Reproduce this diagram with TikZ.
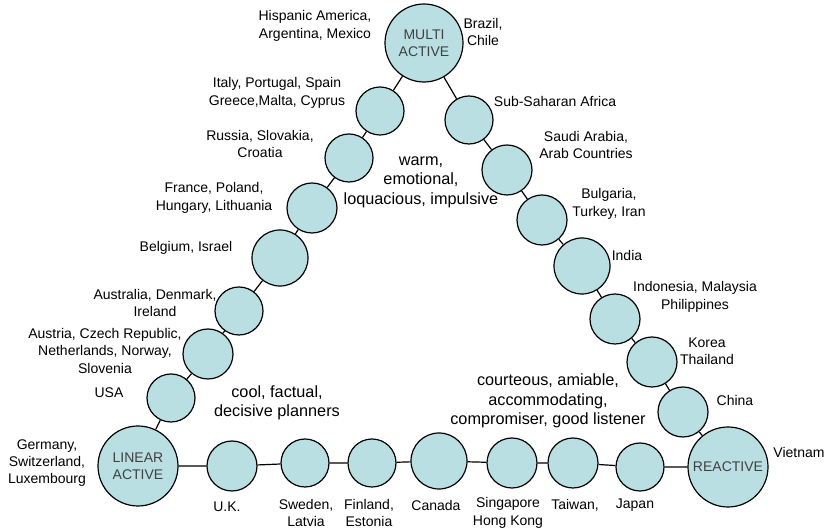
\documentclass[tikz,border=0pt]{standalone}
\usepackage{fontspec}
\setmainfont{Liberation Sans}
\definecolor{cfill}{RGB}{185,223,227}
\begin{document}
\begin{tikzpicture}[x=0.75pt,y=-0.75pt,
  cir/.style={circle,draw=black,fill=cfill,line width=0.9pt,minimum size=#1*1.5pt,inner sep=0pt,
    font=\fontsize{10.5}{13}\selectfont,text=black!75,align=center},
  lbl/.style={align=center,font=\fontsize{10.5}{13}\selectfont,inner sep=0pt},
  big/.style={align=center,font=\fontsize{12.2}{14.6}\selectfont,inner sep=0pt},
  link/.style={line width=0.9pt}]
\path[use as bounding box] (0,0) rectangle (826,530);

% main circles
\node[cir=39] (m)  at (424,43)  {MULTI\\ACTIVE};
\node[cir=40] (la) at (138,466) {LINEAR\\ACTIVE};
\node[cir=40] (re) at (728,467) {REACTIVE};

% left chain
\node[cir=24] (l1) at (380,111) {};
\node[cir=24] (l2) at (349,158) {};
\node[cir=25] (l3) at (312,208) {};
\node[cir=28] (l4) at (280,258) {};
\node[cir=24] (l5) at (239,311) {};
\node[cir=25] (l6) at (208,354) {};
\node[cir=24] (l7) at (171,398) {};

% bottom chain
\node[cir=25] (b1) at (232,466) {};
\node[cir=24] (b2) at (305,463) {};
\node[cir=24] (b3) at (372,463) {};
\node[cir=28] (b4) at (439,461) {};
\node[cir=25] (b5) at (512,463) {};
\node[cir=25] (b6) at (573,463) {};
\node[cir=24] (b7) at (640,467) {};

% right chain
\node[cir=24] (r1) at (469,120) {};
\node[cir=25] (r2) at (507,170) {};
\node[cir=25] (r3) at (542,220) {};
\node[cir=28] (r4) at (582,266) {};
\node[cir=25] (r5) at (615,319) {};
\node[cir=25] (r6) at (652,362) {};
\node[cir=25] (r7) at (683,412) {};

% connectors
\draw[link] (m)--(l1) (l1)--(l2) (l2)--(l3) (l3)--(l4) (l4)--(l5) (l5)--(l6) (l6)--(l7) (l7)--(la);
\draw[link] (la)--(b1) (b1)--(b2) (b2)--(b3) (b3)--(b4) (b4)--(b5) (b5)--(b6) (b6)--(b7) (b7)--(re);
\draw[link] (m)--(r1) (r1)--(r2) (r2)--(r3) (r3)--(r4) (r4)--(r5) (r5)--(r6) (r6)--(r7) (r7)--(re);

% labels
\node[lbl] (t1)  at (315,26)  {Hispanic America,\\Argentina, Mexico};
\node[lbl] (t2)  at (483,32)  {Brazil,\\Chile};
\node[lbl] (t3)  at (277,93)  {Italy, Portugal, Spain\\Greece,Malta, Cyprus};
\node[lbl] (t4)  at (260,144) {Russia, Slovakia,\\Croatia};
\node[lbl] (t5)  at (214,198) {France, Poland,\\Hungary, Lithuania};
\node[lbl] (t6)  at (186,248) {Belgium, Israel};
\node[lbl] (t7)  at (155,303) {Australia, Denmark,\\Ireland};
\node[lbl] (t8)  at (105,351) {Austria, Czech Republic,\\Netherlands, Norway,\\Slovenia};
\node[lbl] (t9)  at (109,393) {USA};
\node[lbl] (t10) at (47,463)  {Germany,\\Switzerland,\\Luxembourg};
\node[lbl] (t11) at (227,507) {U.K.};
\node[lbl] (t12) at (306,513) {Sweden,\\Latvia};
\node[lbl] (t13) at (369,513) {Finland,\\Estonia};
\node[lbl] (t14) at (436,505) {Canada};
\node[lbl] (t15) at (508,513) {Singapore\\Hong Kong};
\node[lbl] (t16) at (575,505) {Taiwan,};
\node[lbl] (t17) at (635,505) {Japan};
\node[lbl] (t18) at (799,453) {Vietnam};
\node[lbl] (t19) at (735,401) {China};
\node[lbl] (t20) at (707,351) {Korea\\Thailand};
\node[lbl] (t21) at (695,297) {Indonesia, Malaysia\\Philippines};
\node[lbl] (t22) at (627,256) {India};
\node[lbl] (t23) at (609,204) {Bulgaria,\\Turkey, Iran};
\node[lbl] (t24) at (586,145) {Saudi Arabia,\\Arab Countries};
\node[lbl] (t25) at (555,102) {Sub-Saharan Africa};

\node[big] (w1) at (421,182) {warm,\\emotional,\\loquacious, impulsive};
\node[big] (w2) at (277,403) {cool, factual,\\decisive planners};
\node[big] (w3) at (548,401) {courteous, amiable,\\accommodating,\\compromiser, good listener};
\end{tikzpicture}
\end{document}
